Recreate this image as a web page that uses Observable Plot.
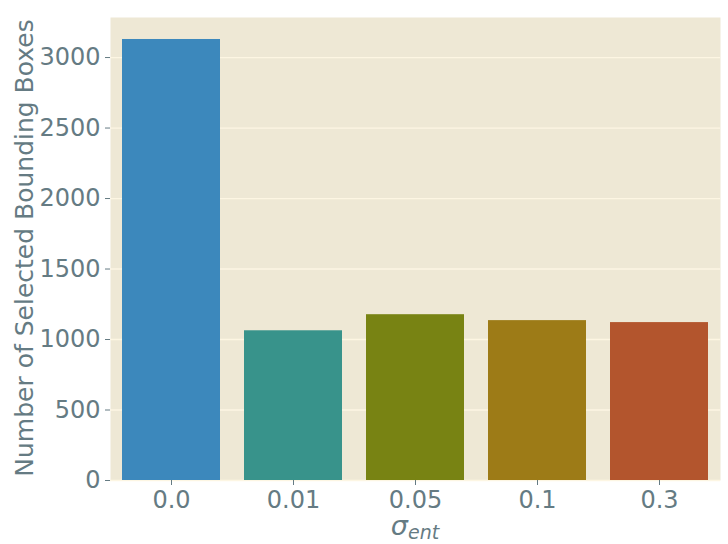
<!DOCTYPE html>
<html>
<head>
<meta charset="utf-8">
<script src="https://cdn.jsdelivr.net/npm/d3@7"></script>
<script src="https://cdn.jsdelivr.net/npm/@observablehq/plot@0.6"></script>
<style>
  html, body { margin: 0; padding: 0; background: #ffffff; }
  #chart { width: 728px; height: 544px; }
  svg { overflow: visible; }
</style>
</head>
<body>
<div id="chart"></div>
<script>
const categories = ["0.0", "0.01", "0.05", "0.1", "0.3"];
const values = [3128, 1062, 1176, 1134, 1120];
const colors = ["#3c88bc", "#38938b", "#788313", "#9d7b17", "#b3552d"];
const yTicks = [0, 500, 1000, 1500, 2000, 2500, 3000];
const yLabel = "Number of Selected Bounding Boxes";

const data = categories.map((c, i) => ({cat: c, value: values[i], color: colors[i]}));
const textColor = "#657b83";

const plot = Plot.plot({
  width: 728,
  height: 544,
  marginLeft: 110,
  marginRight: 8,
  marginTop: 17,
  marginBottom: 64,
  style: {fontFamily: "DejaVu Sans", fontSize: "24px", background: "transparent", overflow: "visible"},
  x: {domain: categories, paddingInner: 0.2, paddingOuter: 0.1, label: null},
  y: {domain: [0, 3284], label: null},
  marks: [
    Plot.frame({fill: "#eee8d5", stroke: null}),
    Plot.gridY(yTicks, {stroke: "#fdf6e3", strokeOpacity: 1, strokeWidth: 1.3}),
    Plot.barY(data, {x: "cat", y: "value", fill: "color"}),
    Plot.axisY(yTicks, {tickSize: 5, tickPadding: 5, stroke: textColor, fill: textColor, fontSize: 24, label: null, tickFormat: d => String(d)}),
    Plot.axisX({tickSize: 5, tickPadding: 5, stroke: textColor, fill: textColor, fontSize: 24, label: null})
  ]
});

const svg = d3.select(plot);
svg.append("text")
  .attr("transform", "translate(33,248) rotate(-90)")
  .attr("text-anchor", "middle")
  .attr("fill", textColor)
  .attr("font-family", "DejaVu Sans")
  .attr("font-size", 25)
  .text(yLabel);

const xl = svg.append("text")
  .attr("x", 415)
  .attr("y", 535)
  .attr("text-anchor", "middle")
  .attr("fill", textColor)
  .attr("font-family", "DejaVu Sans")
  .attr("font-style", "italic")
  .attr("font-size", 27);
xl.append("tspan").text("σ");
xl.append("tspan").attr("font-size", 19).attr("dy", 4).text("ent");

document.getElementById("chart").appendChild(plot);
</script>
</body>
</html>
